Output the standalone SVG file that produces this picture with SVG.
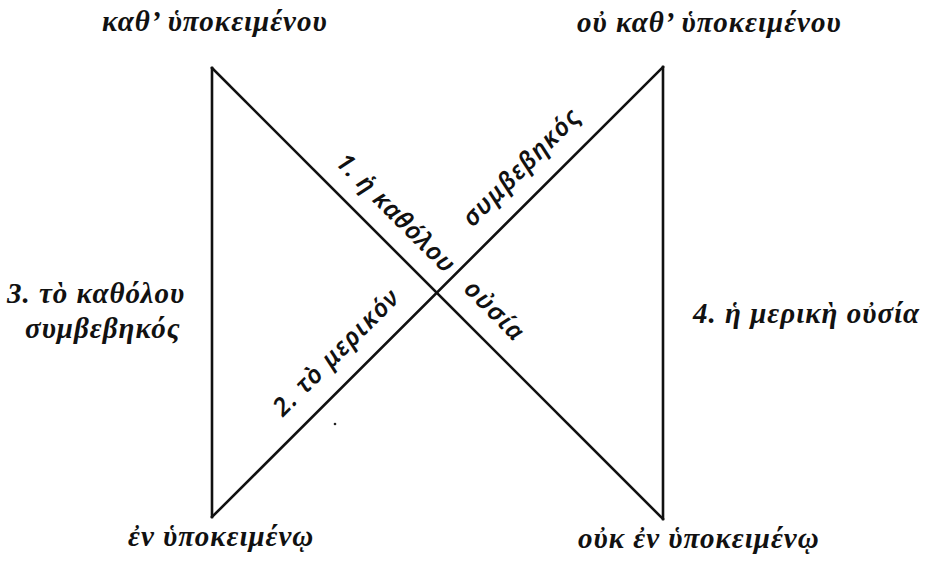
<svg xmlns="http://www.w3.org/2000/svg" width="929" height="563" viewBox="0 0 929 563">
<style>
.ln{stroke:#111;stroke-width:2.6;fill:none;stroke-linecap:square}
.h{font-family:"Liberation Serif","DejaVu Serif",serif;font-style:italic;font-weight:bold;font-size:29px;letter-spacing:1px;fill:#111}
.d{font-family:"Noto Sans","DejaVu Sans",sans-serif;font-style:italic;font-weight:600;font-size:25px;letter-spacing:1.5px;fill:#111}
</style>
<rect width="929" height="563" fill="#fff"/>
<g id="connectors">
<line class="ln" x1="212" y1="68" x2="212" y2="517"/>
<line class="ln" x1="663" y1="67" x2="663" y2="519"/>
<line class="ln" x1="212" y1="68" x2="663" y2="519"/>
<line class="ln" x1="212" y1="517" x2="663" y2="67"/>
</g>
<g id="corner-tl"><text class="h" x="102" y="31">καθ’ ὑποκειμένου</text></g>
<g id="corner-tr"><text class="h" x="577" y="32">οὐ καθ’ ὑποκειμένου</text></g>
<g id="corner-bl"><text class="h" x="128" y="546">ἐν ὑποκειμένῳ</text></g>
<g id="corner-br"><text class="h" x="578" y="548">οὐκ ἐν ὑποκειμένῳ</text></g>
<g id="region-3"><text class="h" x="7" y="303">3. τὸ καθόλου</text><text class="h" x="25" y="338">συμβεβηκός</text></g>
<g id="region-4"><text class="h" x="693" y="323">4. ἡ μερικὴ οὐσία</text></g>
<g id="diag-1"><text class="d" style="letter-spacing:0.8px" transform="translate(334.4,163.6) rotate(45)">1. ἡ καθόλου</text><text class="d" transform="translate(462.4,290.2) rotate(45)">οὐσία</text></g>
<g id="diag-2"><text class="d" transform="translate(282.9,417.5) rotate(-45)">2. τὸ μερικόν</text><text class="d" transform="translate(472.4,228) rotate(-45)">συμβεβηκός</text></g>
<circle cx="335" cy="424" r="1.3" fill="#222"/>
</svg>
